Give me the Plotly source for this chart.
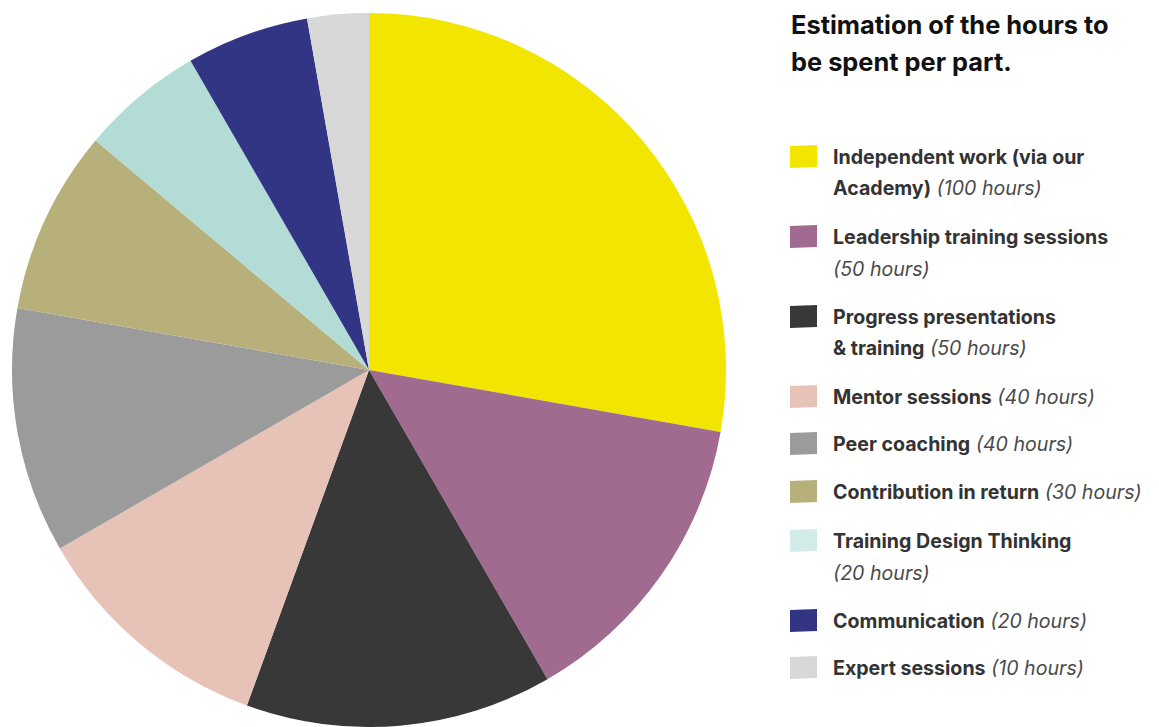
import plotly.graph_objects as go

W, H = 1159, 727

labels = ["Independent work (via our Academy)", "Leadership training sessions",
          "Progress presentations & training", "Mentor sessions", "Peer coaching",
          "Contribution in return", "Training Design Thinking", "Communication",
          "Expert sessions"]
hours = [100, 50, 50, 40, 40, 30, 20, 20, 10]
colors = ["#F2E600", "#A06B8E", "#383838", "#E7C3B7", "#9B9B9B",
          "#B8B07B", "#B3DCD6", "#313584", "#D8D8D8"]
legend_colors = ["#F2E600", "#A06B8E", "#383838", "#E7C3B7", "#9B9B9B",
                 "#B8B07B", "#D2ECE8", "#313584", "#D8D8D8"]
# legend text: list of lines; each line = (bold part, italic part)
legend_lines = [
    [("Independent work (via our", ""), ("Academy)", "(100 hours)")],
    [("Leadership training sessions", ""), ("", "(50 hours)")],
    [("Progress presentations", ""), ("& training", "(50 hours)")],
    [("Mentor sessions", "(40 hours)")],
    [("Peer coaching", "(40 hours)")],
    [("Contribution in return", "(30 hours)")],
    [("Training Design Thinking", ""), ("", "(20 hours)")],
    [("Communication", "(20 hours)")],
    [("Expert sessions", "(10 hours)")],
]
title_lines = ["Estimation of the hours to", "be spent per part."]

FONT = "Inter, Roboto, sans-serif"

fig = go.Figure(go.Pie(
    labels=labels, values=hours, sort=False, direction="clockwise", rotation=0,
    marker=dict(colors=colors, line=dict(width=0)),
    textinfo="none", hoverinfo="label+value", showlegend=False,
    domain=dict(x=[12 / W, 726 / W], y=[0, 714 / H]),
))

def px(x):
    return x / W

def py(y):
    return 1 - y / H

annotations = []
shapes = []
for i, t in enumerate(title_lines):
    annotations.append(dict(
        x=px(789), y=py(25 + 37 * i), xref="paper", yref="paper",
        xanchor="left", yanchor="middle", showarrow=False,
        text="<b>" + t + "</b>", font=dict(family=FONT, size=25.4, color="#111111")))

item_y = [157, 237, 317, 397, 444, 492, 541, 621, 668]
for i, lines in enumerate(legend_lines):
    y0 = item_y[i]
    # square
    x0, x1 = 790, 817
    t0, b0 = y0 - 12, y0 + 11
    path = (f"M {px(x0)},{py(t0 + 1)} L {px(x1)},{py(t0)} "
            f"L {px(x1)},{py(b0 - 1)} L {px(x0)},{py(b0)} Z")
    shapes.append(dict(type="path", path=path, xref="paper", yref="paper",
                       fillcolor=legend_colors[i], line=dict(width=0)))
    for j, (b, it) in enumerate(lines):
        parts = []
        if b:
            parts.append("<b>" + b + "</b>")
        if it:
            parts.append("<i><span style='color:#4a4a4a'>" + it + "</span></i>")
        annotations.append(dict(
            x=px(831), y=py(y0 + 31.5 * j), xref="paper", yref="paper",
            xanchor="left", yanchor="middle", showarrow=False,
            text=" ".join(parts), font=dict(family=FONT, size=19.6, color="#333333")))

fig.update_layout(
    width=W, height=H, margin=dict(l=0, r=0, t=0, b=0),
    paper_bgcolor="white", plot_bgcolor="white",
    annotations=annotations, shapes=shapes,
)

fig.write_html("out.html")
